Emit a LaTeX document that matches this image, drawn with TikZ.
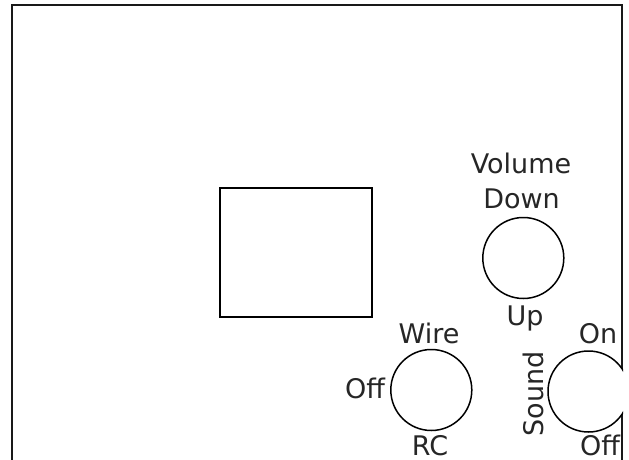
\documentclass[tikz,border=0pt]{standalone}
\usepackage{fontspec}
\setmainfont{DejaVu Sans}
\begin{document}
\begin{tikzpicture}[x=1pt,y=-1pt,
  knob/.style={circle,draw=black,line width=1.5pt,fill=white,minimum size=81pt,inner sep=0pt},
  lbl/.style={anchor=base,inner sep=0pt,text=black!85,font=\fontsize{27}{32}\selectfont},
  frameline/.style={line width=2pt,draw=black!90}]
\useasboundingbox (0,0) rectangle (629,460);
% outer frame
\coordinate (fbl) at (11.5,460);
\coordinate (ftl) at (11.5,5.5);
\coordinate (ftr) at (622,5.5);
\coordinate (fbr) at (622,460);
\draw[frameline] (fbl) -- (ftl) -- (ftr) -- (fbr);
% display rectangle
\node[draw=black,line width=1.5pt,minimum width=152pt,minimum height=129pt,inner sep=0pt] (screen) at (296,252.5) {};
% volume knob
\node[knob] (vol) at (523.3,258) {};
\node[lbl] (volume) at (521,173) {Volume};
\node[lbl] (down) at (521.5,208) {Down};
\node[lbl] (up) at (525,325) {Up};
% wire knob
\node[knob] (wire) at (431.3,390) {};
\node[lbl] (wiret) at (429,343) {Wire};
\node[lbl] (offl) at (365,398) {Off};
\node[lbl] (rc) at (430,455) {RC};
% sound knob (cut by the right edge)
\begin{scope}
\clip (0,0) rectangle (623,460);
\node[knob] (sound) at (588.5,391.5) {};
\end{scope}
\node[lbl] (on) at (598,343) {On};
\node[lbl] (offr) at (600,455) {Off};
\node[lbl,rotate=90,anchor=base] (soundt) at (543,394) {Sound};
\end{tikzpicture}
\end{document}
